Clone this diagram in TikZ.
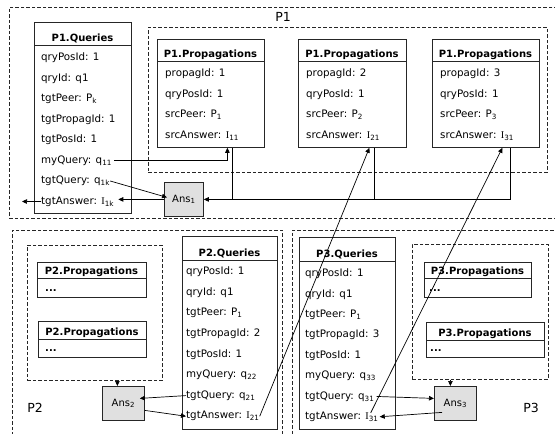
\documentclass[tikz,border=0pt]{standalone}
\usepackage{fontspec}
\setmainfont{DejaVu Sans}
\newfontfamily\romI{Liberation Serif}
\usetikzlibrary{arrows.meta}
\newcommand\Isub[1]{{\romI I}\textsubscript{#1}}
\begin{document}
\begin{tikzpicture}[x=1pt,y=-1pt,
  box/.style={draw=black!85, line width=0.8pt, fill=white, inner sep=0pt, anchor=north west},
  dbox/.style={draw=black!85, line width=0.8pt, dash pattern=on 3.5pt off 2pt, inner sep=0pt, anchor=north west},
  ansbox/.style={draw=black!85, line width=0.8pt, fill=black!12, inner sep=0pt, anchor=north west, font=\fontsize{10}{12}\selectfont},
  sepline/.style={draw=black!85, line width=0.8pt},
  row/.style={anchor=mid west, inner sep=0pt, font=\fontsize{10.3}{12}\selectfont},
  dots/.style={anchor=mid west, inner sep=0pt, font=\fontsize{10}{12}\selectfont\bfseries},
  ttl/.style={anchor=base, inner sep=0pt, font=\fontsize{10}{12}\selectfont\bfseries},
  lbl/.style={inner sep=0pt, font=\fontsize{12.5}{14}\selectfont},
  con/.style={line width=0.7pt},
  arr/.style={con, -{Triangle[length=5pt,width=4.5pt]}},
]
\useasboundingbox (0,0) rectangle (555,434);
\clip (0,0) rectangle (555,434);
\fill[white] (0,0) rectangle (555,434);

% ---------- P1 ----------
\node[dbox, minimum width=551pt, minimum height=211pt] (P1) at (9,7) {};
\node[dbox, minimum width=399pt, minimum height=145pt] (p1in) at (148,27) {};
\node[lbl] (l1) at (283,17) {P1};

\node[box, minimum width=97pt, minimum height=191pt] (q1) at (34,22) {};
\draw[sepline] ([yshift=-23pt]q1.north west) -- ([yshift=-23pt]q1.north east);
\node[ttl] (q1t) at (82.5,41) {P1.Queries};
\foreach \t [count=\i] in {{qryPosId: 1},{qryId: q1},{tgtPeer: P\textsubscript{k}},{tgtPropagId: 1},{tgtPosId: 1},{myQuery: q\textsubscript{11}},{tgtQuery: q\textsubscript{1k}},{tgtAnswer: \Isub{1k}}}
  \node[row] (q1r\i) at (41,{58+(\i-1)*20.5}) {\t};

\node[box, minimum width=107pt, minimum height=108pt] (pp1) at (157,39) {};
\node[box, minimum width=108pt, minimum height=108pt] (pp2) at (298,39) {};
\node[box, minimum width=107pt, minimum height=108pt] (pp3) at (432,39) {};
\foreach \b in {pp1,pp2,pp3}
  \draw[sepline] ([yshift=-22pt]\b.north west) -- ([yshift=-22pt]\b.north east);
\node[ttl] (pp1t) at (210.5,57) {P1.Propagations};
\node[ttl] (pp2t) at (352,57) {P1.Propagations};
\node[ttl] (pp3t) at (485.5,57) {P1.Propagations};
\foreach \n/\x in {1/165,2/306,3/440}{
  \node[row] (pp\n r1) at (\x,74) {propagId: \n};
  \node[row] (pp\n r2) at (\x,94.5) {qryPosId: 1};
  \node[row] (pp\n r3) at (\x,115) {srcPeer: P\textsubscript{\n}};
  \node[row] (pp\n r4) at (\x,135.5) {srcAnswer: \Isub{\n1}};
}

\node[ansbox, minimum width=39pt, minimum height=34pt] (ans1) at (164,182) {Ans\textsubscript{1}};

% ---------- P2 ----------
\node[dbox, minimum width=270pt, minimum height=215pt] (P2) at (12,230) {};
\node[dbox, minimum width=135pt, minimum height=135pt] (p2in) at (27,245) {};
\node[lbl] (l2) at (35,408) {P2};

\node[box, minimum width=109pt, minimum height=35pt] (p2a) at (37,262) {};
\draw[sepline] ([yshift=-16pt]p2a.north west) -- ([yshift=-16pt]p2a.north east);
\node[ttl] (p2at) at (91.5,274.5) {P2.Propagations};
\node[dots] (p2ad) at (45,289) {...};
\node[box, minimum width=108pt, minimum height=36pt] (p2b) at (38,321) {};
\draw[sepline] ([yshift=-18pt]p2b.north west) -- ([yshift=-18pt]p2b.north east);
\node[ttl] (p2bt) at (92,335) {P2.Propagations};
\node[dots] (p2bd) at (45,349) {...};

\node[ansbox, minimum width=42pt, minimum height=34pt] (ans2) at (102,386) {Ans\textsubscript{2}};

\node[box, minimum width=95pt, minimum height=193pt] (q2) at (182,236) {};
\draw[sepline] ([yshift=-24pt]q2.north west) -- ([yshift=-24pt]q2.north east);
\node[ttl] (q2t) at (229.5,256) {P2.Queries};
\foreach \t [count=\i] in {{qryPosId: 1},{qryId: q1},{tgtPeer: P\textsubscript{1}},{tgtPropagId: 2},{tgtPosId: 1},{myQuery: q\textsubscript{22}},{tgtQuery: q\textsubscript{21}},{tgtAnswer: \Isub{21}}}
  \node[row] (q2r\i) at (186,{272+(\i-1)*20.6}) {\t};

% ---------- P3 ----------
\node[dbox, minimum width=268pt, minimum height=215pt] (P3) at (292,230) {};
\node[dbox, minimum width=136pt, minimum height=135pt] (p3in) at (412,244) {};
\node[lbl] (l3) at (531,408) {P3};

\node[box, minimum width=96pt, minimum height=192pt] (q3) at (299,237) {};
\draw[sepline] ([yshift=-24pt]q3.north west) -- ([yshift=-24pt]q3.north east);
\node[ttl] (q3t) at (347,257) {P3.Queries};
\foreach \t [count=\i] in {{qryPosId: 1},{qryId: q1},{tgtPeer: P\textsubscript{1}},{tgtPropagId: 3},{tgtPosId: 1},{myQuery: q\textsubscript{33}},{tgtQuery: q\textsubscript{31}},{tgtAnswer: \Isub{31}}}
  \node[row] (q3r\i) at (305,{274+(\i-1)*20.4}) {\t};

\node[box, minimum width=107pt, minimum height=35pt] (p3a) at (424,262) {};
\draw[sepline] ([yshift=-16pt]p3a.north west) -- ([yshift=-16pt]p3a.north east);
\node[ttl] (p3at) at (477.5,274.5) {P3.Propagations};
\node[dots] (p3ad) at (429,289) {...};
\node[box, minimum width=118pt, minimum height=35pt] (p3b) at (426,322) {};
\draw[sepline] ([yshift=-18pt]p3b.north west) -- ([yshift=-18pt]p3b.north east);
\node[ttl] (p3bt) at (485,336) {P3.Propagations};
\node[dots] (p3bd) at (430,349) {...};

\node[ansbox, minimum width=42pt, minimum height=34pt] (ans3) at (434,386) {Ans\textsubscript{3}};

% ---------- connectors ----------
\draw[arr, shorten <=2pt] (q1r6.east) -| ([xshift=16.5pt]pp1.south);
\coordinate (v1) at ([xshift=21.5pt]pp1.south);
\coordinate (v2) at ([xshift=22pt]pp2.south);
\coordinate (v3) at ([xshift=24.5pt]pp3.south);
\draw[con] (v1) -- (v1 |- ans1.east);
\draw[con] (v2) -- (v2 |- ans1.east);
\draw[arr] (v3) |- (ans1.east);
\draw[arr, shorten >=4pt] (ans1.west) -- (q1r8.east |- ans1.west);
\coordinate (out1) at (22,201.5);
\draw[arr] (q1r8.west) -- (out1);
\draw[arr] (q1r7.east) -- ([xshift=3pt,yshift=2pt]ans1.west);

\draw[arr] (q2r8.east) -- ([xshift=17pt]pp2.south);
\draw[arr] ([xshift=-8pt,yshift=4pt]q3r8.east) -- ([xshift=16.5pt]pp3.south);

\coordinate (a2t) at ([xshift=-6pt]ans2.north);
\draw[arr] (a2t |- p2in.south) -- (a2t);
\draw[arr] (q2r7.west) -- ([xshift=-5pt,yshift=5pt]ans2.east);
\draw[arr] ([yshift=-7pt]ans2.east) -- (q2r8.west);

\coordinate (a3t) at ([xshift=-5pt]ans3.north);
\draw[arr] (a3t |- p3in.south) -- (a3t);
\draw[arr, shorten <=2pt] (q3r7.east) -- ([yshift=5pt]ans3.west);
\draw[arr, shorten >=1pt] ([xshift=8pt,yshift=-9pt]ans3.west) -- (q3r8.east);
\end{tikzpicture}
\end{document}
